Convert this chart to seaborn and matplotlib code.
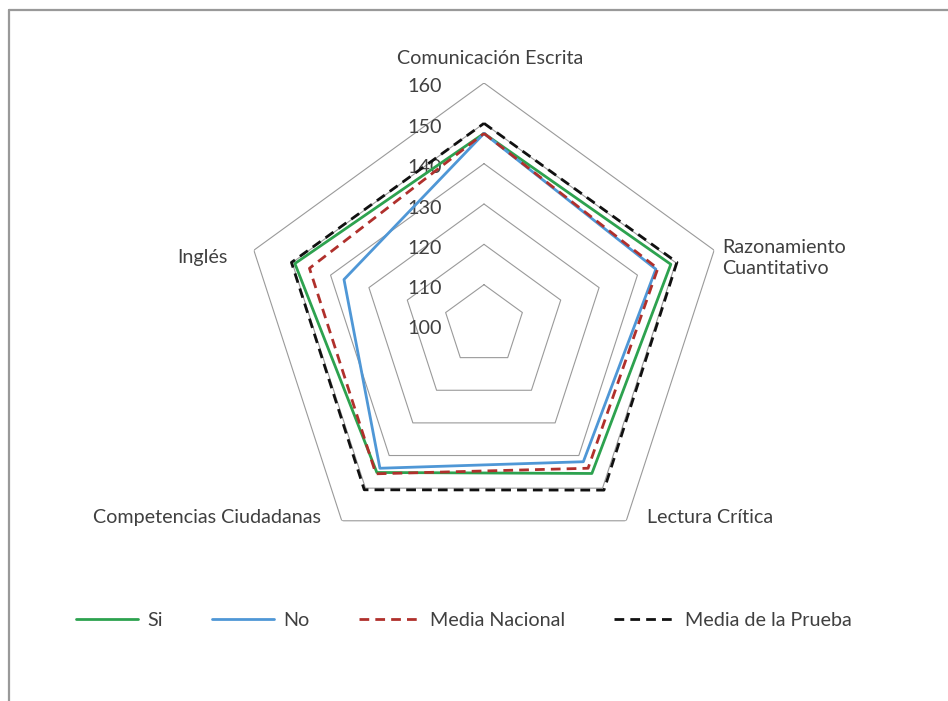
import numpy as np
import pandas as pd
import seaborn as sns
import matplotlib.pyplot as plt
from matplotlib.lines import Line2D

# categories, clockwise from the top
categories = ["Comunicación Escrita", "Razonamiento\nCuantitativo", "Lectura Crítica",
              "Competencias Ciudadanas", "Inglés"]
series_names = ["Si", "No", "Media Nacional", "Media de la Prueba"]
si = [147.5, 148.7, 145.5, 145.2, 149.3]
no = [147.5, 144.8, 141.9, 143.9, 136.5]
media_nacional = [147.5, 145.3, 143.9, 145.6, 145.5]
media_prueba = [150.0, 150.3, 150.6, 150.5, 150.2]
ticks = [100, 110, 120, 130, 140, 150, 160]

colors = ["#2DA24F", "#4F97D6", "#B0302C", "#111111"]
styles = ["-", "-", (0, (3.5, 2.2)), (0, (3.5, 2.2))]

sns.set_style("white")
plt.rcParams["font.family"] = ["Lato", "DejaVu Sans"]
txt = "#404040"
fs = 14.2

fig = plt.figure(figsize=(9.48, 7.01), dpi=100)
ax = fig.add_axes([242 / 948, 134 / 701, 484 / 948, 484 / 701], projection="polar")
ax.set_theta_offset(np.pi / 2)
ax.set_theta_direction(-1)
ax.set_ylim(ticks[0], ticks[-1])
ax.grid(False)
ax.spines["polar"].set_visible(False)
ax.set_facecolor("none")

n = len(categories)
theta = np.linspace(0, 2 * np.pi, n, endpoint=False)
theta_c = np.append(theta, 2 * np.pi)

# pentagon grid rings
for t in ticks[1:]:
    ax.plot(theta_c, [t] * (n + 1), color="#9a9a9a", lw=0.8, zorder=1)

# radial tick labels
for t in ticks:
    ax.annotate(str(t), xy=(0, t), xytext=(-42, -4), textcoords="offset pixels",
                ha="right", va="center", fontsize=fs, color=txt)

# category labels
offsets = [(6, 25, "center", "center"), (8, -8, "left", "center"),
           (21, 3, "left", "center"), (-21, 3, "right", "center"),
           (-26, -7, "right", "center")]
for th, lab, (dx, dy, ha, va) in zip(theta, categories, offsets):
    ax.annotate(lab, xy=(th, ticks[-1]), xytext=(dx, dy), textcoords="offset pixels",
                ha=ha, va=va, fontsize=fs, color=txt, linespacing=1.3)

rows = []
for name, vals in zip(series_names, [si, no, media_nacional, media_prueba]):
    for th, v in zip(theta_c, vals + vals[:1]):
        rows.append({"serie": name, "theta": th, "valor": v})
df = pd.DataFrame(rows)

handles = []
for name, c, ls in zip(series_names, colors, styles):
    d = df[df["serie"] == name]
    sns.lineplot(data=d, x="theta", y="valor", ax=ax, color=c, linestyle=ls,
                 lw=2.0, sort=False, estimator=None, legend=False, zorder=3)
    handles.append(Line2D([], [], color=c, linestyle=ls, lw=2.0, label=name))
ax.set_xlabel("")
ax.set_ylabel("")
ax.set_ylim(ticks[0], ticks[-1])
ax.set_xticks([])
ax.set_yticks([])

fig.legend(handles=handles, loc="center", bbox_to_anchor=(464 / 948, 1 - 620 / 701),
           ncol=4, frameon=False, fontsize=fs, handlelength=3.15, handletextpad=0.45,
           columnspacing=2.5, labelcolor=txt)

# chart-area border (top and left edges visible)
fig.add_artist(Line2D([9 / 948, 1.0], [1 - 10 / 701, 1 - 10 / 701], color="#999999",
                      lw=1.6, transform=fig.transFigure))
fig.add_artist(Line2D([9 / 948, 9 / 948], [0.0, 1 - 10 / 701], color="#999999",
                      lw=1.6, transform=fig.transFigure))

fig.savefig("out.png", dpi=100)
